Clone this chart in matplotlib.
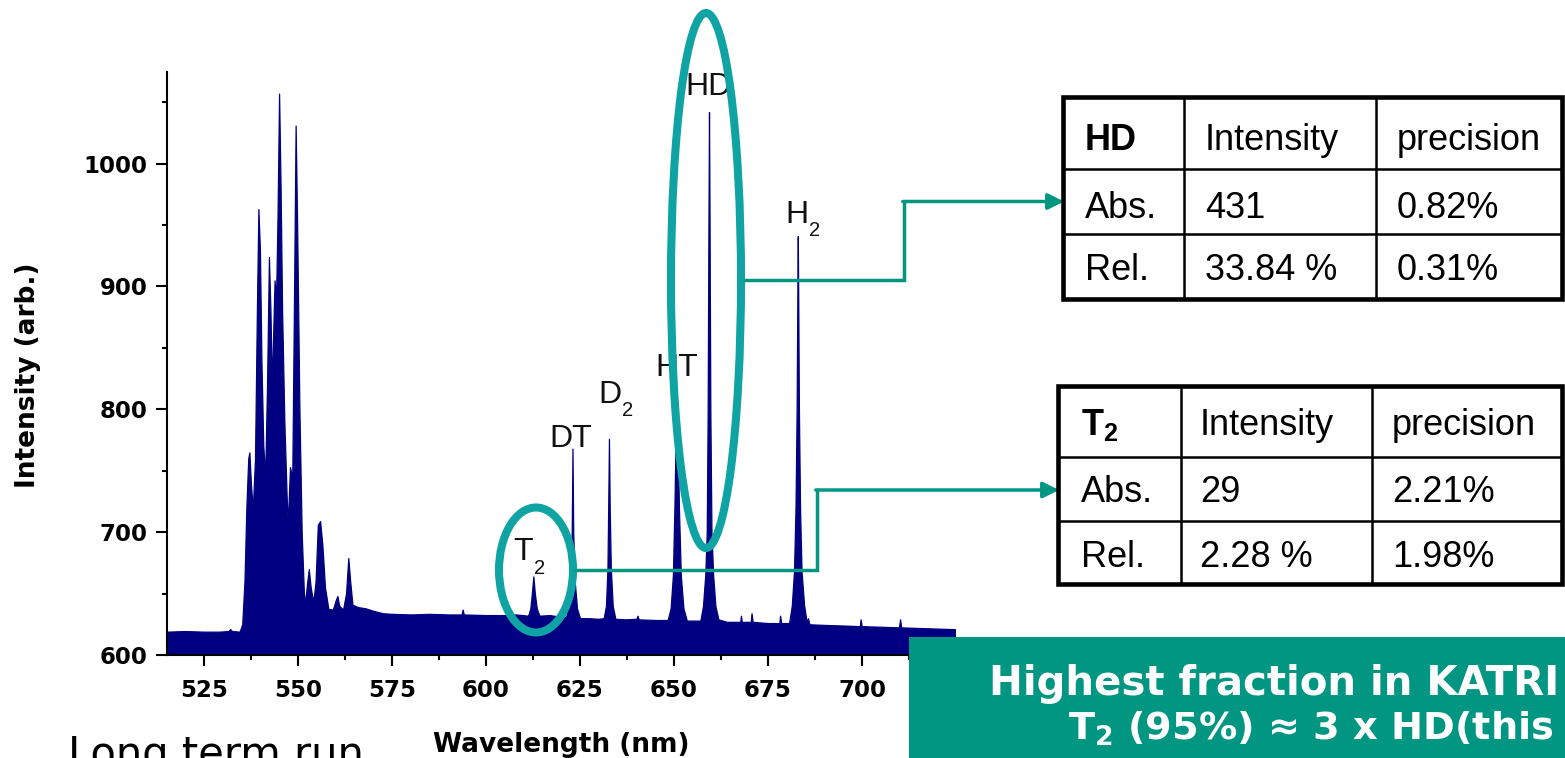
import matplotlib
matplotlib.use("Agg")
import matplotlib.pyplot as plt
from matplotlib.patches import Ellipse, Rectangle
from matplotlib.ticker import MultipleLocator

# spectrum: wavelength (nm) and intensity (arb.)
wavelength = [515.2, 520, 525, 529, 531.5, 532, 532.5, 534.5,
              535.2, 535.8, 536.3, 536.8, 537.1, 537.5, 538.0, 538.6, 539.1, 539.5,
              539.9, 540.3, 540.8, 541.3, 541.8, 542.3, 542.7, 543.1, 543.5, 543.8,
              544.2, 544.6, 545.0, 545.4, 545.8, 546.4, 547.0, 547.3, 547.9, 548.5,
              549.0, 549.4, 549.8, 550.4, 551.0, 551.6, 551.9, 552.5, 552.9, 553.4,
              554.1, 554.7, 555.3, 555.9, 556.5, 557.2, 558.1, 559.3, 560.1, 560.5,
              561.0, 562.0, 562.8, 563.4, 563.9, 564.5, 566, 568, 570, 572.6,
              575, 580, 585, 590, 593.5, 593.8, 594.1, 600, 605, 608,
              611.2, 611.8, 612.2, 612.6, 613.0, 613.5, 614.2, 617, 619, 621.3,
              621.9, 622.4, 622.8, 623.0, 623.2, 623.6, 624.2, 625.0, 627, 630, 631.3,
              631.9, 632.3, 632.5, 632.7, 632.9, 633.2, 633.7, 634.4, 637, 640, 640.3, 640.6, 645,
              648.3, 649.1, 649.7, 650.1, 650.5, 650.7, 650.9, 651.3, 651.8, 652.5, 653.4, 655,
              657.0, 657.7, 658.3, 658.7, 658.95, 659.15, 659.3, 659.45, 659.65, 659.95, 660.4,
              661.0, 661.8, 664, 667.6, 667.8, 668.0, 670.4, 670.6, 670.9, 675, 678.0,
              678.2, 678.5, 680.6, 681.3, 681.9, 682.3, 682.6, 682.8, 682.9, 683.0, 683.2,
              683.5, 683.9, 684.6, 685.3, 685.6, 686.0, 690, 695, 699.4, 699.6, 699.9,
              705, 709.8, 710.1, 710.4, 715, 720, 724.7]
intensity = [619, 619.5, 619, 619, 619.5, 621, 619.5, 619,
             625, 660, 720, 760, 765, 740, 718, 760, 880, 963,
             930, 840, 770, 746, 820, 924, 880, 818, 870, 905,
             890, 960, 1057, 980, 880, 790, 730, 706, 753, 744,
             900, 1031, 950, 800, 700, 650, 642, 660, 670, 655,
             643, 660, 706, 709, 690, 655, 637.5, 637, 645, 648,
             640, 637, 650, 679, 660, 641, 639, 638, 636, 634,
             633.5, 633, 633.5, 633, 633, 637, 633, 632.5, 632.5, 633,
             632, 638, 650, 664, 650, 638, 632, 632.5, 631.5, 631,
             638, 660, 700, 768, 700, 660, 638, 630, 630, 629.5, 630,
             640, 670, 720, 776, 720, 670, 640, 629.5, 629, 629.5, 632, 629, 628.5,
             628.5, 638, 665, 720, 790, 818, 790, 720, 665, 638, 628, 628,
             628, 640, 665, 700, 800, 950, 1042, 950, 800, 700, 665,
             640, 629, 627, 627, 632, 627, 627, 634, 627, 626, 626,
             632, 626, 626, 640, 668, 720, 800, 900, 941, 900, 800,
             720, 668, 640, 626, 630, 625, 624.5, 624, 623.5, 629, 623.5,
             623, 622.5, 629, 622.5, 622, 621.5, 621]

# peak names (main letters and subscript) with the (wavelength, intensity) of the label baseline start
peak_names = ["HD", "H", "HT", "D", "DT", "T"]
peak_subs = ["", "2", "", "2", "", "2"]
label_wl = [652.9, 679.5, 645.0, 629.8, 616.8, 607.2]
label_int = [1056, 952, 827, 805, 769, 677]

# precision tables
hd_rows = [["HD", "Intensity", "precision"],
           ["Abs.", "431", "0.82%"],
           ["Rel.", "33.84 %", "0.31%"]]
t2_rows = [["T$_{\\mathregular{2}}$", "Intensity", "precision"],
           ["Abs.", "29", "2.21%"],
           ["Rel.", "2.28 %", "1.98%"]]

W, H = 1565, 758
NAVY = "#000080"
RING = "#0fa3a3"
GREEN = "#009682"

fig = plt.figure(figsize=(W / 100, H / 100), dpi=100)
fig.patch.set_facecolor("white")

ax = fig.add_axes([167 / W, 1 - 655 / H, (955 - 167) / W, (655 - 72) / H])
ax.fill_between(wavelength, 600, intensity, color=NAVY, lw=0.9)
ax.set_xlim(515.2, 724.7)
ax.set_ylim(600, 1074.6)
for side in ["top", "right"]:
    ax.spines[side].set_visible(False)
for side in ["left", "bottom"]:
    ax.spines[side].set_linewidth(1.5)
ax.xaxis.set_major_locator(MultipleLocator(25))
ax.xaxis.set_minor_locator(MultipleLocator(12.5))
ax.yaxis.set_major_locator(MultipleLocator(100))
ax.yaxis.set_minor_locator(MultipleLocator(50))
ax.tick_params(which="major", direction="out", length=8, width=1.5, labelsize=16.5)
ax.tick_params(which="minor", direction="out", length=3.6, width=1.5)
ax.tick_params(axis="x", which="major", pad=9)
ax.tick_params(axis="y", which="major", pad=6)
for lab in ax.get_xticklabels() + ax.get_yticklabels():
    lab.set_fontweight("bold")

ax.set_xlabel("Wavelength (nm)", fontsize=19, fontweight="bold", va="center")
ax.xaxis.set_label_coords(0.5, (655 - 745) / 583)
ax.set_ylabel("Intensity (arb.)", fontsize=19, fontweight="bold", va="center")
ax.yaxis.set_label_coords((28 - 167) / 788, (655 - 375) / 583)

for name, sub, x, y in zip(peak_names, peak_subs, label_wl, label_int):
    t = ax.text(x, y, name, fontsize=23, family="Liberation Sans", color="#111111",
                ha="left", va="baseline", clip_on=False)
    if sub:
        ax.annotate(sub, xy=(1, 0), xycoords=t, xytext=(0.8, -4.5), textcoords="offset points",
                    fontsize=14.5, family="Liberation Sans", color="#111111",
                    ha="left", va="baseline")

# annotation layer in pixel coordinates
ov = fig.add_axes([0, 0, 1, 1])
ov.set_xlim(0, W)
ov.set_ylim(H, 0)
ov.axis("off")

# rings around the HD and T2 peaks
ov.add_patch(Ellipse((706, 280.5), 70, 535, fill=False, ec=RING, lw=5.8))
ov.add_patch(Ellipse((536, 570), 74, 125, fill=False, ec=RING, lw=5.8))

# elbow connectors from the rings to the tables
arrow = dict(arrowstyle="-|>", color=GREEN, lw=2.5, mutation_scale=24, shrinkA=0, shrinkB=0)
ov.plot([745, 904, 904], [280, 280, 201.5], color=GREEN, lw=2.5, solid_joinstyle="miter")
ov.annotate("", xy=(1064, 201.5), xytext=(902.8, 201.5), arrowprops=arrow)
ov.plot([576, 817, 817], [569.5, 569.5, 490], color=GREEN, lw=2.5, solid_joinstyle="miter")
ov.annotate("", xy=(1059, 490), xytext=(815.8, 490), arrowprops=arrow)


def draw_table(xs, ys, rows, text_x, baselines):
    ov.add_patch(Rectangle((xs[0], ys[0]), xs[-1] - xs[0], ys[-1] - ys[0],
                           fc="white", ec="black", lw=3.3, zorder=3))
    for x in xs[1:-1]:
        ov.plot([x, x], [ys[0], ys[-1]], color="black", lw=1.8, zorder=4)
    for y in ys[1:-1]:
        ov.plot([xs[0], xs[-1]], [y, y], color="black", lw=1.8, zorder=4)
    for r, row in enumerate(rows):
        for c, cell in enumerate(row):
            bold = (r == 0 and c == 0)
            ov.text(text_x[c], baselines[r], cell, fontsize=26, family="Liberation Sans",
                    fontweight="bold" if bold else "normal", ha="left", va="baseline", zorder=5)


draw_table([1063, 1184, 1376, 1562], [97, 169, 234, 299], hd_rows,
           [1085, 1205, 1397], [150, 218, 280])
draw_table([1058, 1181, 1372, 1562], [386, 457, 521, 584], t2_rows,
           [1081, 1200, 1392], [435, 502, 567])

# summary banner
ov.add_patch(Rectangle((909, 637), W - 909, H - 637, fc=GREEN, ec="none", zorder=6))
ov.text(989, 695, "Highest fraction in KATRI", fontsize=29, fontweight="bold",
        color="white", ha="left", va="baseline", zorder=7)
ov.text(1068, 740, "T$_{\\mathregular{2}}$ (95%) \u2248 3 x HD(this", fontsize=27.5, fontweight="bold",
        color="white", ha="left", va="baseline", zorder=7)

ov.text(68, 767, "Long term run", fontsize=30, color="black", ha="left", va="baseline")

fig.savefig("out.png", dpi=100)
